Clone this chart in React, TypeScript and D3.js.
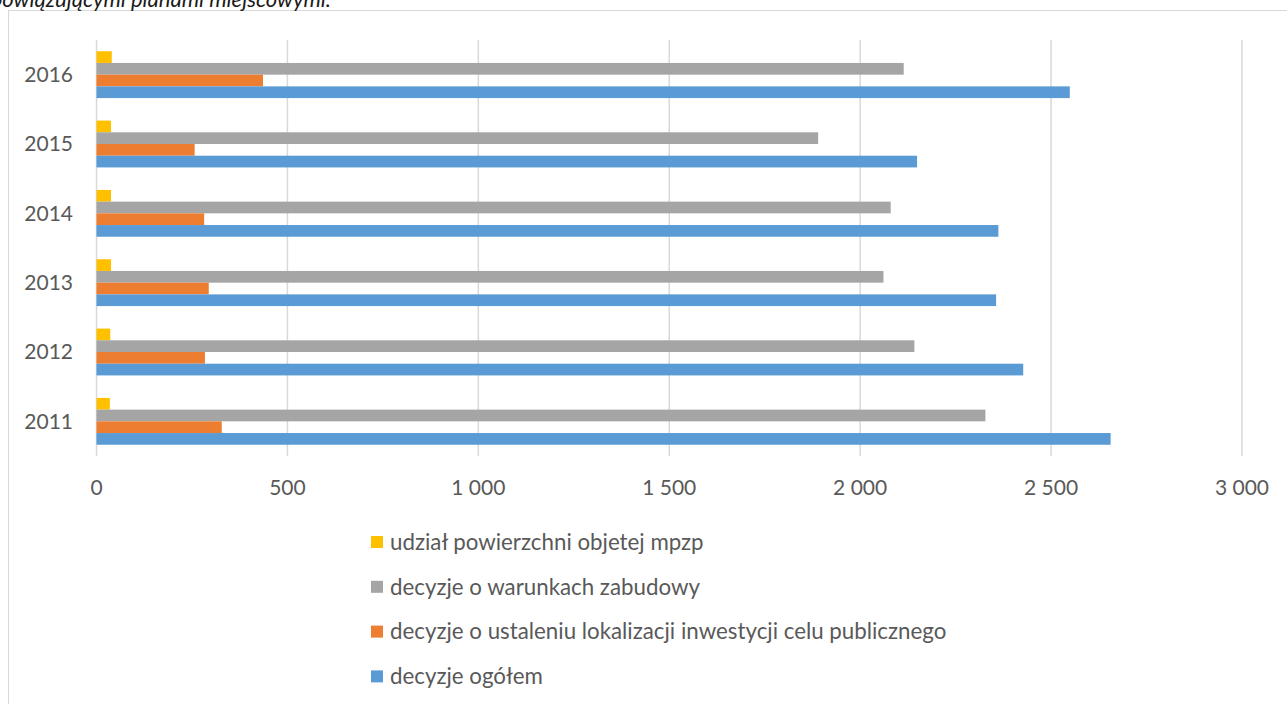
import React from "react";
import * as d3 from "d3";

const years = ["2011", "2012", "2013", "2014", "2015", "2016"];
const decyzjeOgolem = [2656, 2427, 2356, 2362, 2149, 2549];
const decyzjeUstalenie = [328, 284, 294, 282, 257, 436];
const decyzjeWarunki = [2328, 2142, 2061, 2080, 1890, 2114];
const udzialMpzp = [35, 36, 38, 38, 38, 40];
const xTicks = [0, 500, 1000, 1500, 2000, 2500, 3000];

const seriesNames = [
  "udział powierzchni objetej mpzp",
  "decyzje o warunkach zabudowy",
  "decyzje o ustaleniu lokalizacji inwestycji celu publicznego",
  "decyzje ogółem",
];
const seriesValues = [udzialMpzp, decyzjeWarunki, decyzjeUstalenie, decyzjeOgolem];
const seriesColors = ["#FFC000", "#A5A5A5", "#ED7D31", "#5B9BD5"];

const FONT = "Lato, 'Open Sans', sans-serif";
const TEXT = "#595959";

export default function App() {
  const W = 1287, H = 704;
  const x = d3.scaleLinear().domain([0, 3000]).range([96.5, 1242]);
  const y = d3.scaleBand().domain([...years].reverse()).range([40, 456]).padding(0);
  const bw = y.bandwidth();
  const inner = d3.scaleBand().domain(seriesNames).range([11.25, bw - 11.25]).padding(0);
  const loc = d3.formatLocale({ decimal: ",", thousands: "\u00a0", grouping: [3], currency: ["", " zł"] });
  const fmt = loc.format(",");

  return (
    <svg width={W} height={H} style={{ position: "absolute", left: 0, top: 0, background: "#fff" }}>
      <rect x={8.5} y={10.5} width={W + 10} height={H + 10} fill="#fff" stroke="#D9D9D9" strokeWidth={1} />
      <text x={331} y={7} textAnchor="end" fontFamily={FONT} fontStyle="italic" fontSize={22} fill="#1a1a1a">
        obowiązującymi planami miejscowymi.
      </text>
      {xTicks.map((t) => (
        <line key={"g" + t} x1={x(t)} x2={x(t)} y1={40} y2={456} stroke="#D9D9D9" strokeWidth={1.5} />
      ))}
      {years.map((yr, i) => (
        <g key={yr}>
          {seriesNames.map((s, k) => (
            <rect
              key={s}
              x={x(0)}
              y={(y(yr) as number) + (inner(s) as number)}
              width={x(seriesValues[k][i]) - x(0)}
              height={inner.bandwidth()}
              fill={seriesColors[k]}
            />
          ))}
          <text
            x={73}
            y={(y(yr) as number) + bw / 2}
            dy="0.35em"
            textAnchor="end"
            fontFamily={FONT}
            fontSize={21}
            fill={TEXT}
          >
            {yr}
          </text>
        </g>
      ))}
      {xTicks.map((t) => (
        <text key={"t" + t} x={x(t)} y={495} textAnchor="middle" fontFamily={FONT} fontSize={21} fill={TEXT}>
          {fmt(t)}
        </text>
      ))}
      {seriesNames.map((s, k) => {
        const cy = 542 + k * 44.8;
        return (
          <g key={"l" + s}>
            <rect x={371} y={cy - 6} width={12} height={12} fill={seriesColors[k]} />
            <text x={390} y={cy} dy="0.35em" fontFamily={FONT} fontSize={22.3} fill={TEXT}>
              {s}
            </text>
          </g>
        );
      })}
    </svg>
  );
}
